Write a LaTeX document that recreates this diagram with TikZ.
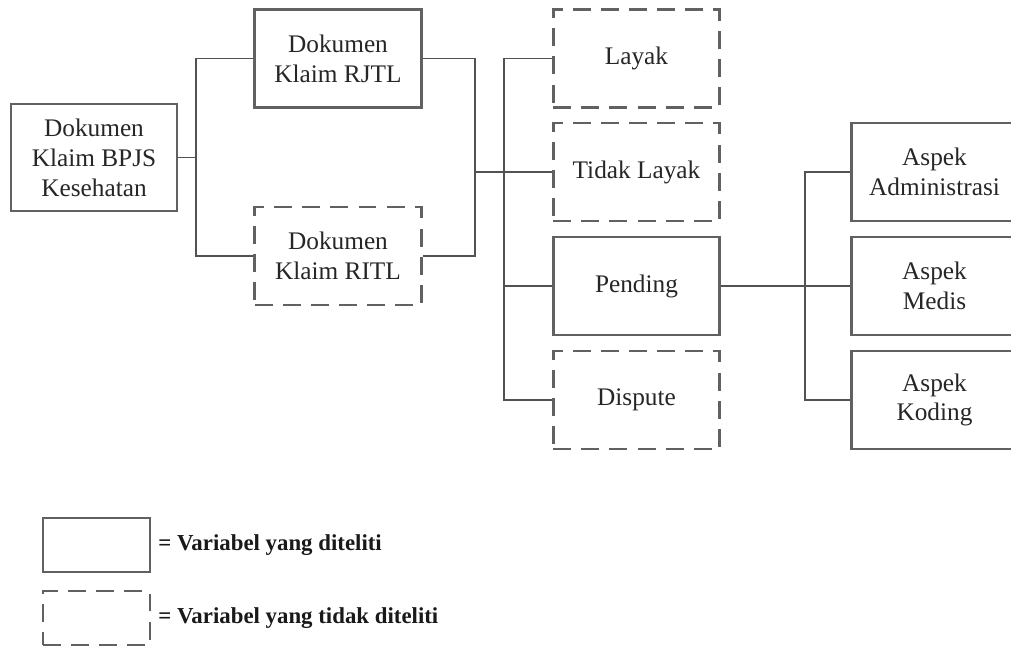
\documentclass[tikz,border=0pt]{standalone}
\usepackage{fontspec}
\setmainfont{Liberation Serif}
\usetikzlibrary{calc}

\tikzset{
    varbox/.style={
        draw=black!62,
        line width=1.6pt,
        minimum width=3.33cm,
        minimum height=1.96cm,
        inner sep=0pt,
        align=center,
        text=black!85,
        font=\fontsize{14.4}{17}\selectfont
    },
    varboxout/.style={
        varbox,
        dash pattern=on 10.2pt off 5.8pt
    },
    link/.style={
        draw=black!68,
        line width=1.1pt
    },
    legendtext/.style={
        anchor=west,
        inner sep=0pt,
        text=black!90,
        font=\fontsize{13}{15}\selectfont\bfseries
    }
}

\begin{document}
\begin{tikzpicture}[x=0.02cm, y=-0.02cm]

    \useasboundingbox (0,0) rectangle (1011,647);

    % root
    \node[varbox, minimum width=3.32cm, minimum height=2.14cm]
        (bpjs) at (94,157.5) {Dokumen\\Klaim BPJS\\Kesehatan};

    % klaim
    \node[varbox] (rjtl) at (338,58.5) {Dokumen\\Klaim RJTL};
    \node[varboxout] (ritl) at (338,256) {Dokumen\\Klaim RITL};

    % status
    \node[varboxout] (layak) at (636.5,58.5) {Layak};
    \node[varboxout] (tidak) at (636.5,172) {Tidak Layak};
    \node[varbox] (pending) at (636.5,286) {Pending};
    \node[varboxout] (dispute) at (636.5,400) {Dispute};

    % aspek
    \node[varbox] (admin) at (934.5,172) {Aspek\\Administrasi};
    \node[varbox] (medis) at (934.5,286) {Aspek\\Medis};
    \node[varbox] (koding) at (934.5,400) {Aspek\\Koding};

    % root -> klaim
    \coordinate (j_klaim) at (196,157.5);
    \draw[link]
        (bpjs.east) --
        (j_klaim);
    \draw[link]
        (rjtl.west) -|
        (j_klaim) |-
        (ritl.west);

    % klaim -> status
    \coordinate (j_merge) at (475,172);
    \draw[link]
        (rjtl.east) -|
        (j_merge) |-
        (ritl.east);
    \draw[link]
        (j_merge) --
        (tidak.west);

    \coordinate (j_status) at (504,286);
    \draw[link]
        (layak.west) -|
        (j_status) |-
        (dispute.west);
    \draw[link]
        (j_status) --
        (pending.west);

    % pending -> aspek
    \coordinate (j_aspek) at (805,286);
    \draw[link]
        (pending.east) --
        (medis.west);
    \draw[link]
        (admin.west) -|
        (j_aspek) |-
        (koding.west);

    % legend
    \node[varbox, minimum width=2.14cm, minimum height=1.08cm]
        (key_in) at (96.5,545) {};
    \node[varboxout, minimum width=2.14cm, minimum height=1.08cm]
        (key_out) at (96.5,618) {};

    \node[legendtext] (key_in_text) at (158,545) {= Variabel yang diteliti};
    \node[legendtext] (key_out_text) at (158,618) {= Variabel yang tidak diteliti};

\end{tikzpicture}
\end{document}
